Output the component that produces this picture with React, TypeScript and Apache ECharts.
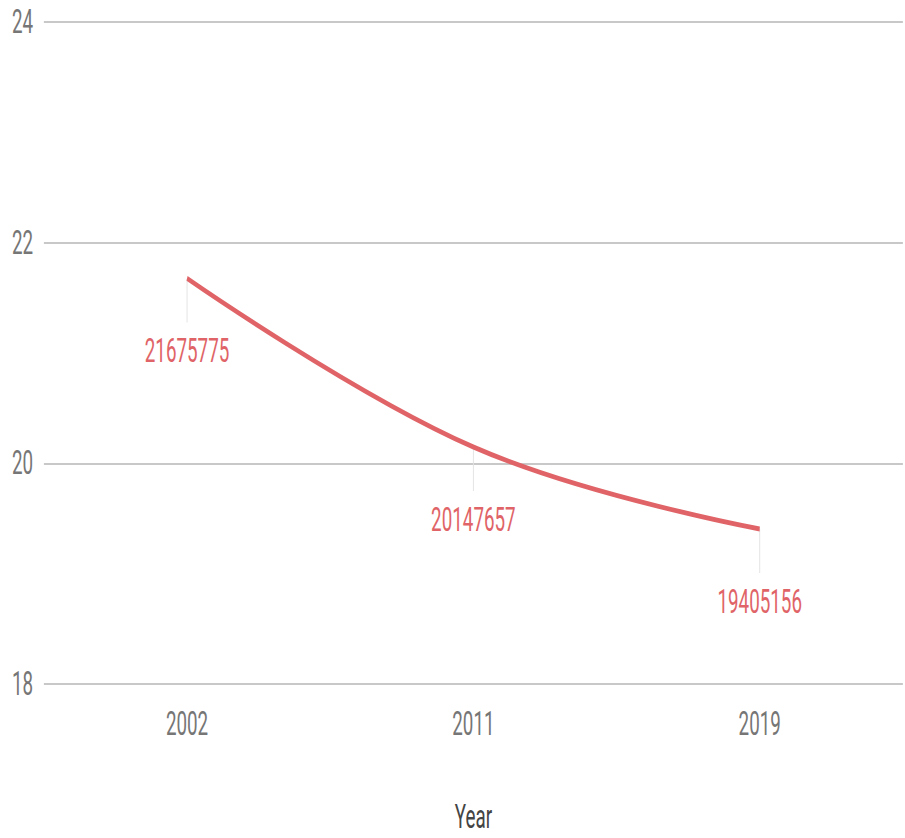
import React, { useEffect, useRef } from "react";
import * as echarts from "echarts";

// Population by census year
const years = ["2002", "2011", "2019"];
const population = [21675775, 20147657, 19405156];

// Value-axis ticks (millions)
const yMin = 18000000;
const yMax = 24000000;
const yStep = 2000000;

const RED = "#e06467";
const GRAY = "#767676";
const FONT = "Roboto";

// The drawing is laid out wide and compressed horizontally into the page
const SQUEEZE = 0.57;
const PAGE_W = 905;
const PAGE_H = 838;
const INNER_W = Math.round(PAGE_W / SQUEEZE);

export default function App() {
  const ref = useRef<HTMLDivElement>(null);

  useEffect(() => {
    if (!ref.current) return;
    const chart = echarts.init(ref.current, undefined, { renderer: "svg" });
    chart.setOption({
      animation: false,
      backgroundColor: "#ffffff",
      grid: {
        left: Math.round(44 / SQUEEZE),
        right: Math.round(2 / SQUEEZE),
        top: 22,
        bottom: PAGE_H - 688,
        containLabel: false,
      },
      xAxis: {
        type: "category",
        data: years,
        boundaryGap: true,
        name: "Year",
        nameLocation: "middle",
        nameGap: 116,
        nameTextStyle: { color: "#444444", fontSize: 33, fontFamily: FONT },
        axisLine: { show: false },
        axisTick: { show: false },
        axisLabel: { color: GRAY, fontSize: 33, fontFamily: FONT, margin: 23 },
      },
      yAxis: {
        type: "value",
        min: yMin,
        max: yMax,
        interval: yStep,
        axisLine: { show: false },
        axisTick: { show: false },
        axisLabel: {
          color: GRAY,
          fontSize: 33,
          fontFamily: FONT,
          margin: 19,
          formatter: (v: number) => String(v / 1000000),
        },
        splitLine: { lineStyle: { color: "#c8c8c8", width: 2 } },
      },
      series: [
        {
          type: "custom",
          z: 1,
          data: population.map((v, i) => [i, v]),
          renderItem: (params: any, api: any) => {
            const p = api.coord([api.value(0), api.value(1)]);
            return {
              type: "group",
              children: [
                {
                  type: "line",
                  shape: { x1: p[0], y1: p[1], x2: p[0], y2: p[1] + 44 },
                  style: { stroke: "#e2e2e2", lineWidth: 1.6 },
                },
                {
                  type: "text",
                  x: p[0],
                  y: p[1] + 73,
                  style: {
                    text: String(api.value(1)),
                    fill: RED,
                    fontSize: 33,
                    fontFamily: FONT,
                    align: "center",
                    verticalAlign: "middle",
                  },
                },
              ],
            };
          },
        },
        {
          type: "line",
          z: 3,
          data: population,
          smooth: 0.4,
          showSymbol: false,
          symbol: "none",
          lineStyle: { color: RED, width: 5 },
        },
      ],
    });
    return () => chart.dispose();
  }, []);

  return (
    <div
      style={{
        position: "absolute",
        left: 0,
        top: 0,
        width: PAGE_W,
        height: PAGE_H,
        overflow: "hidden",
        background: "#ffffff",
      }}
    >
      <div
        ref={ref}
        style={{
          width: INNER_W,
          height: PAGE_H,
          transform: `scaleX(${SQUEEZE})`,
          transformOrigin: "0 0",
        }}
      />
    </div>
  );
}
